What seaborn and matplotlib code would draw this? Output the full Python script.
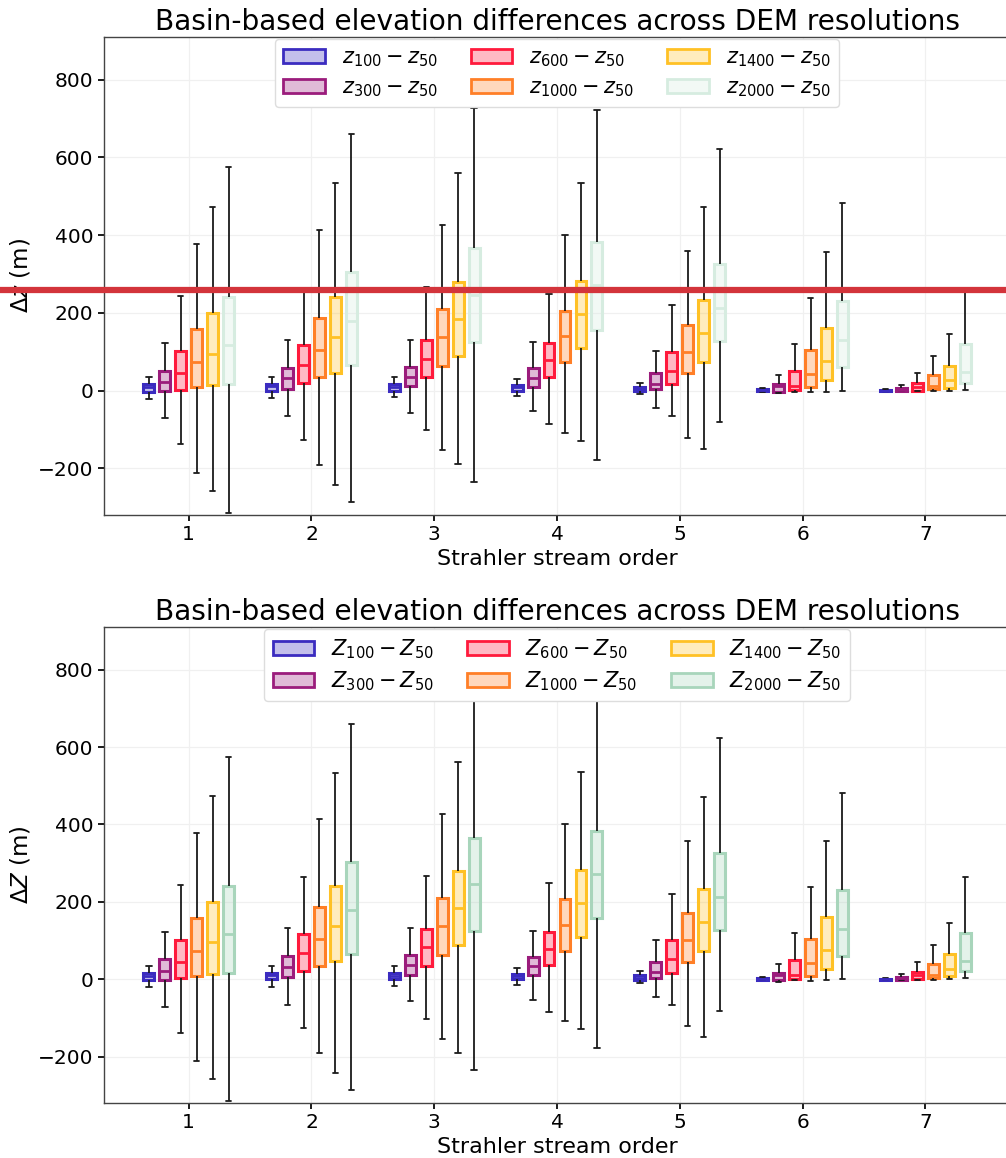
import matplotlib
matplotlib.use("Agg")
import matplotlib.pyplot as plt
import matplotlib.transforms as mtransforms
from matplotlib.lines import Line2D
from matplotlib.patches import Patch
import numpy as np
import pandas as pd
import seaborn as sns

# Strahler orders on the x axis
orders = ["1", "2", "3", "4", "5", "6", "7"]
# DEM resolutions (m) compared against the 50 m reference DEM
resolutions = ["100", "300", "600", "1000", "1400", "2000"]

# Five-number summaries of ΔZ (m) per resolution (rows) and stream order (columns)
whisker_low = [
    [-21, -19, -17, -15, -9, -3, -3],
    [-71, -66, -57, -53, -46, -7, -2],
    [-138, -126, -102, -85, -66, -3, -1],
    [-211, -191, -154, -108, -122, -4, -1],
    [-259, -242, -190, -130, -149, -3, 0],
    [-316, -287, -234, -178, -81, 0, 2],
]
quartile_1 = [
    [-3, 0, 0, 0, -2, -1, -1],
    [-1, 5, 12, 10, 3, -3, -2],
    [2, 20, 34, 36, 16, 1, 0],
    [9, 35, 63, 74, 44, 8, 3],
    [14, 46, 89, 110, 73, 27, 7],
    [17, 66, 125, 157, 127, 60, 20],
]
median = [
    [9, 11, 9, 9, 4, 1, 0],
    [21, 32, 36, 33, 18, 11, 2],
    [45, 67, 82, 78, 51, 12, 10],
    [73, 105, 137, 140, 100, 42, 11],
    [95, 138, 185, 197, 149, 76, 27],
    [118, 178, 246, 272, 212, 130, 47],
]
quartile_3 = [
    [17, 16, 16, 14, 10, 4, 1],
    [51, 59, 62, 57, 44, 17, 6],
    [101, 118, 129, 122, 100, 50, 19],
    [158, 186, 210, 206, 170, 104, 39],
    [199, 242, 279, 281, 234, 160, 64],
    [242, 304, 366, 383, 326, 230, 120],
]
whisker_high = [
    [34, 35, 34, 30, 20, 6, 3],
    [122, 131, 131, 124, 102, 39, 14],
    [244, 264, 267, 249, 221, 120, 44],
    [378, 414, 427, 401, 358, 239, 89],
    [473, 533, 561, 535, 472, 357, 146],
    [575, 660, 728, 721, 622, 482, 265],
]

# Reference level marked across the upper panel (m)
marked_level = 260

edge_colors = ["#3b2cc0", "#9b1c7c", "#ff1a3c", "#ff7f27", "#ffc125", "#a8d5bb"]
edge_colors_upper = ["#3b2cc0", "#9b1c7c", "#ff1a3c", "#ff7f27", "#ffc125", "#d6ece0"]

# Long table: the five summary values of each box reproduce its quartiles exactly
rows = []
for i, res in enumerate(resolutions):
    for j, order in enumerate(orders):
        for v in (whisker_low[i][j], quartile_1[i][j], median[i][j],
                  quartile_3[i][j], whisker_high[i][j]):
            rows.append({"order": order, "res": res, "dz": v})
df = pd.DataFrame(rows)

sns.set_theme(style="whitegrid")
plt.rcParams["font.family"] = ["DejaVu Sans"]
plt.rcParams.update({
    "text.color": "black",
    "axes.labelcolor": "black",
    "axes.edgecolor": "#444444",
    "axes.linewidth": 1.0,
    "grid.color": "#f0f0f0",
    "grid.linewidth": 0.9,
    "xtick.bottom": True,
    "ytick.left": True,
    "xtick.major.size": 4,
    "ytick.major.size": 4,
    "xtick.color": "black",
    "ytick.color": "black",
})

fig = plt.figure(figsize=(10.06, 11.58), dpi=100)
ax_top = fig.add_axes([0.1034, 0.5553, 0.9006, 0.4128])
ax_bot = fig.add_axes([0.1034, 0.0475, 0.9006, 0.4110])


def draw_panel(ax, colors, sym, ylab):
    sns.boxplot(
        data=df, x="order", y="dz", hue="res",
        order=orders, hue_order=resolutions,
        palette=colors, saturation=1, whis=(0, 100), showfliers=False,
        width=0.78, gap=0.32, legend=False, ax=ax,
    )
    for cont, col in zip(ax.containers, colors):
        for box in cont.boxes:
            box.set_facecolor(matplotlib.colors.to_rgba(col, 0.3))
            box.set_edgecolor(col)
            box.set_linewidth(2.2)
        for med in cont.medians:
            med.set_color(col)
            med.set_linewidth(2.0)
        for w in cont.whiskers:
            w.set_color("#1a1a1a")
            w.set_linewidth(1.3)
        for c in cont.caps:
            c.set_color("#1a1a1a")
            c.set_linewidth(1.3)

    ax.set_xlim(-0.69, 6.69)
    ax.set_ylim(-320, 910)
    ax.set_yticks([-200, 0, 200, 400, 600, 800])
    ax.grid(True, axis="both")
    ax.tick_params(labelsize=14.5)
    ax.set_title("Basin-based elevation differences across DEM resolutions",
                 fontsize=20.2, pad=5)
    ax.set_xlabel("Strahler stream order", fontsize=16, labelpad=3)
    ax.set_ylabel(ylab, fontsize=16.5)

    handles = [
        Patch(facecolor=matplotlib.colors.to_rgba(c, 0.3), edgecolor=c, linewidth=2.0)
        for c in colors
    ]
    labels = [rf"${sym}_{{{r}}} - {sym}_{{50}}$" for r in resolutions]
    ax.legend(handles, labels, ncol=3, loc="upper center", fontsize=15,
              frameon=True, framealpha=1, edgecolor="#dddddd",
              borderaxespad=0.1, labelspacing=0.4, columnspacing=1.6,
              handletextpad=0.8)


draw_panel(ax_top, edge_colors_upper, "z", r"$\Delta z$ (m)")
draw_panel(ax_bot, edge_colors, "Z", r"$\Delta Z$ (m)")

# Horizontal marker across the full figure width at the reference level
trans = mtransforms.blended_transform_factory(fig.transFigure, ax_top.transData)
fig.add_artist(Line2D([0, 1], [marked_level, marked_level], transform=trans,
                      color="#d3343b", linewidth=4.5, zorder=10))

fig.savefig("out.png", dpi=100)
